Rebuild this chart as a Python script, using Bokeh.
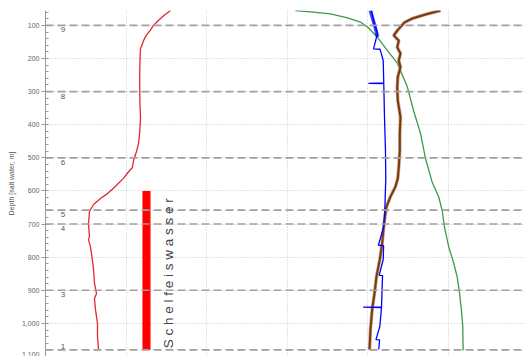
import math
from bokeh.plotting import figure
from bokeh.models import Range1d, FixedTicker, NumeralTickFormatter, Span, Label
from bokeh.core.properties import value
from bokeh.embed import file_html
from bokeh.resources import INLINE

# ---- axes / reference lines ----
depth_ticks = [100, 200, 300, 400, 500, 600, 700, 800, 900, 1000, 1100]
depth_minor = list(range(60, 1101, 20))
grid_x = [0, 1, 2, 3, 4, 5]
layer_depths = [100, 300, 500, 658, 700, 900, 1080]
layer_labels = ["9", "8", "6", "5", "4", "3", "1"]

# ---- profiles (normalised x units, depth in m) ----
red_u = [1.551, 1.47, 1.40, 1.340, 1.30, 1.25, 1.216, 1.20, 1.179, 1.175, 1.170, 1.168,
         1.170, 1.172, 1.179, 1.170, 1.154, 1.13, 1.092, 1.079, 1.02, 0.968, 0.893, 0.83,
         0.769, 0.682, 0.596, 0.546, 0.540, 0.533, 0.540, 0.546, 0.533, 0.555, 0.571,
         0.596, 0.608, 0.633, 0.608, 0.620, 0.645, 0.645, 0.658]
red_d = [55, 70, 85, 100, 115, 130, 146, 158, 170, 190, 227, 260,
         306, 340, 378, 420, 457, 480, 508, 529, 545, 562, 580, 595,
         608, 623, 641, 662, 680, 698, 720, 738, 747, 765, 789,
         837, 879, 910, 925, 958, 1000, 1040, 1079]

green_u = [3.10, 3.325, 3.536, 3.747, 3.908, 3.995, 4.119, 4.243, 4.367, 4.491, 4.566,
           4.653, 4.715, 4.798, 4.880, 4.922, 4.950, 5.004, 5.066, 5.108, 5.136, 5.161,
           5.177, 5.182]
green_d = [55, 60, 65, 77, 90, 105, 136, 176, 215, 287, 357,
           426, 502, 574, 619, 659, 709, 770, 819, 860, 906, 961,
           1011, 1082]

blue_u = [4.045, 4.069, 4.119, 4.07, 4.15, 4.156, 4.190, 4.197, 4.007, 4.197, 4.206,
          4.218, 4.222, 4.210, 4.197, 4.13, 4.195, 4.190, 4.14, 4.182, 4.177, 4.169,
          3.941, 4.169, 4.148, 4.10, 4.145, 4.135]
blue_d = [55, 85, 124, 171, 172, 176, 206, 274, 275, 276, 378,
          478, 562, 656, 707, 764, 765, 807, 855, 856, 889, 950,
          951, 952, 1009, 1049, 1050, 1079]
blue_band_u = [4.03, 4.06, 4.09, 4.12]
blue_band_d = [55, 80, 105, 135]

brown_u = [4.901, 4.715, 4.553, 4.454, 4.367, 4.321, 4.383, 4.364, 4.404, 4.383, 4.404,
           4.371, 4.364, 4.371, 4.404, 4.396, 4.396, 4.383, 4.371, 4.342, 4.280, 4.231,
           4.218, 4.197, 4.177, 4.148, 4.107, 4.082, 4.053, 4.032, 4.020]
brown_d = [55, 67, 79, 91, 115, 130, 146, 166, 185, 206, 226,
           256, 287, 327, 377, 426, 478, 528, 562, 587, 617, 647,
           667, 707, 758, 807, 858, 909, 958, 1018, 1079]

# ---- water mass bar ----
bar_x = 1.253
bar_w = 0.10
bar_top = 600
bar_bottom = 1080
bar_text = "S c h e l f e i s w a s s e r"

FONT = "Liberation Sans"

p = figure(width=524, height=356, output_backend="svg", toolbar_location=None,
           x_range=Range1d(0, 5.943), y_range=Range1d(1100, 55),
           x_axis_location=None, y_axis_location="left",
           min_border_left=45, min_border_top=10, min_border_bottom=0, min_border_right=0)
p.outline_line_color = None
p.background_fill_color = "white"
p.border_fill_color = "white"

# grids
p.xgrid.ticker = FixedTicker(ticks=grid_x)
p.xgrid.grid_line_color = "#c8c8c8"
p.xgrid.grid_line_dash = "1 2"
p.ygrid.grid_line_color = "#c8c8c8"
p.ygrid.grid_line_dash = "1 2"

# y axis
ax = p.yaxis[0]
ax.ticker = FixedTicker(ticks=depth_ticks, minor_ticks=depth_minor)
ax.formatter = NumeralTickFormatter(format="0,0")
ax.axis_label = "Depth [salt water, m]"
ax.axis_label_text_font = FONT
ax.axis_label_text_font_size = "7px"
ax.axis_label_text_font_style = "normal"
ax.axis_label_text_color = "#555555"
ax.axis_label_standoff = 4
ax.major_label_text_font = FONT
ax.major_label_text_font_size = "7px"
ax.major_label_text_color = "#666666"
ax.major_label_standoff = 2
ax.axis_line_color = "#999999"
ax.major_tick_line_color = "#999999"
ax.minor_tick_line_color = "#999999"
ax.major_tick_in = 0
ax.major_tick_out = 4
ax.minor_tick_in = 3
ax.minor_tick_out = 0

# layer boundaries
for d in layer_depths:
    p.add_layout(Span(location=d, dimension="width", line_color="#a0a0a0",
                      line_width=1.6, line_dash="8 4"))
p.text(x=[0.19] * (len(layer_depths) - 1), y=layer_depths[:-1], text=layer_labels[:-1],
       text_baseline="top", text_align="left", y_offset=2,
       text_font=value(FONT), text_font_size="8px", text_color="#555555")
# last boundary lies at the lower edge: label it just above the line
p.text(x=[0.19], y=layer_depths[-1:], text=layer_labels[-1:],
       text_baseline="bottom", text_align="left", y_offset=-1,
       text_font=value(FONT), text_font_size="8px", text_color="#555555")

# profiles
p.line(red_u, red_d, line_color="#e0282e", line_width=1.3)
p.line(green_u, green_d, line_color="#3c9a46", line_width=1.3)
p.line(brown_u, brown_d, line_color="#b07a50", line_width=3.4, line_alpha=0.7)
p.line(brown_u, brown_d, line_color="#7a3a12", line_width=2.0)
p.line(blue_band_u, blue_band_d, line_color="#0000ff", line_width=3.5, line_alpha=0.75)
p.line(blue_u, blue_d, line_color="#0000ff", line_width=1.3)

# water mass bar + label
p.vbar(x=[bar_x], width=bar_w, bottom=[bar_bottom], top=[bar_top],
       fill_color="#ff0000", line_color=None)
p.add_layout(Label(x=bar_x + 0.273, y=bar_bottom - 5, text=bar_text, angle=math.pi / 2,
                   text_align="left", text_baseline="alphabetic",
                   text_font=FONT, text_font_size="13.5px", text_color="#444444"))

open("out.html", "w").write(file_html(p, INLINE))
